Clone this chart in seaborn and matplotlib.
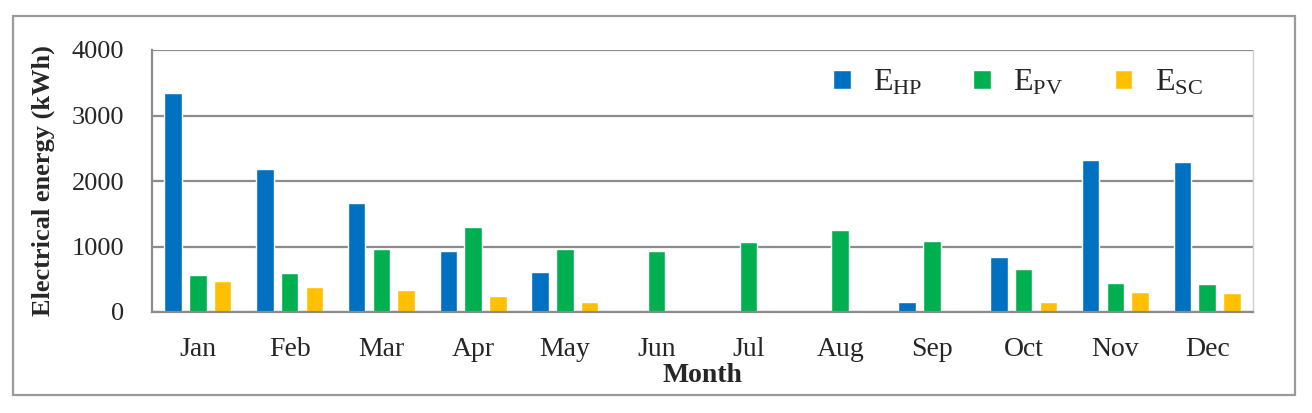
import matplotlib
matplotlib.use('Agg')
import matplotlib.pyplot as plt
import matplotlib.patches as patches
import seaborn as sns
import numpy as np
import pandas as pd

months = ['Jan', 'Feb', 'Mar', 'Apr', 'May', 'Jun', 'Jul', 'Aug', 'Sep', 'Oct', 'Nov', 'Dec']
e_hp = [3350, 2185, 1670, 930, 605, 0, 0, 0, 148, 845, 2315, 2290]
e_pv = [565, 600, 960, 1295, 955, 935, 1075, 1250, 1080, 660, 438, 428]
e_sc = [472, 386, 335, 244, 148, 0, 0, 0, 12, 152, 310, 295]
series = [r'$\mathregular{E_{HP}}$', r'$\mathregular{E_{PV}}$', r'$\mathregular{E_{SC}}$']
colors = ['#0070C0', '#00B050', '#FFC000']

df = pd.DataFrame({
    'month': months * 3,
    'energy': e_hp + e_pv + e_sc,
    'series': [series[0]] * 12 + [series[1]] * 12 + [series[2]] * 12,
})

sns.set_style('white')
plt.rcParams['font.family'] = ['Liberation Serif', 'DejaVu Serif']
plt.rcParams['mathtext.fontset'] = 'custom'
plt.rcParams['mathtext.rm'] = 'Liberation Serif'

fig = plt.figure(figsize=(13.12, 4.13), dpi=100)
ax = fig.add_axes([152 / 1312, 1 - 312 / 413, 1101 / 1312, 262 / 413])

sns.barplot(data=df, x='month', y='energy', hue='series', order=months,
            hue_order=series, palette=colors, width=0.81, gap=0.3,
            saturation=1, ax=ax)

grid_c = '#8c8c8c'
ax.set_ylim(0, 4000)
ax.set_xlim(-0.5, 11.5)
ax.set_yticks([0, 1000, 2000, 3000, 4000])
ax.yaxis.grid(True, color=grid_c, linewidth=1.6)
ax.set_axisbelow(True)

# ticks between categories, labels at centres
ax.set_xticks(np.arange(-0.5, 12, 1))
ax.set_xticklabels([])
ax.set_xticks(np.arange(12), minor=True)
ax.set_xticklabels(months, minor=True)
ax.tick_params(axis='x', which='major', length=8, width=1.6, color=grid_c, direction='out')
ax.tick_params(axis='x', which='minor', length=0, pad=18, labelsize=20)
ax.tick_params(axis='y', length=8, width=1.6, color=grid_c, direction='out', labelsize=19, pad=12)

for side in ['left', 'bottom']:
    ax.spines[side].set_color(grid_c)
    ax.spines[side].set_linewidth(1.6)
ax.spines['top'].set_visible(False)
ax.spines['right'].set_color('#d0d0d0')
ax.spines['right'].set_linewidth(1.0)

ax.set_ylabel('Electrical energy (kWh)', fontsize=19, fontweight='bold', labelpad=12)
ax.set_xlabel('Month', fontsize=20, fontweight='bold', labelpad=1)

ax.legend(loc='center left', bbox_to_anchor=(0.6185, 0.875), ncol=3, frameon=False,
          fontsize=23, handlelength=0.55, handleheight=0.55, handletextpad=0.7,
          columnspacing=1.6, borderpad=0, borderaxespad=0)

fig.patches.append(patches.Rectangle((13 / 1312, 1 - 395 / 413), 1282 / 1312, 379 / 413,
                                     transform=fig.transFigure, fill=False,
                                     edgecolor='#9a9a9a', linewidth=1.6))

fig.savefig('out.png', dpi=100)
